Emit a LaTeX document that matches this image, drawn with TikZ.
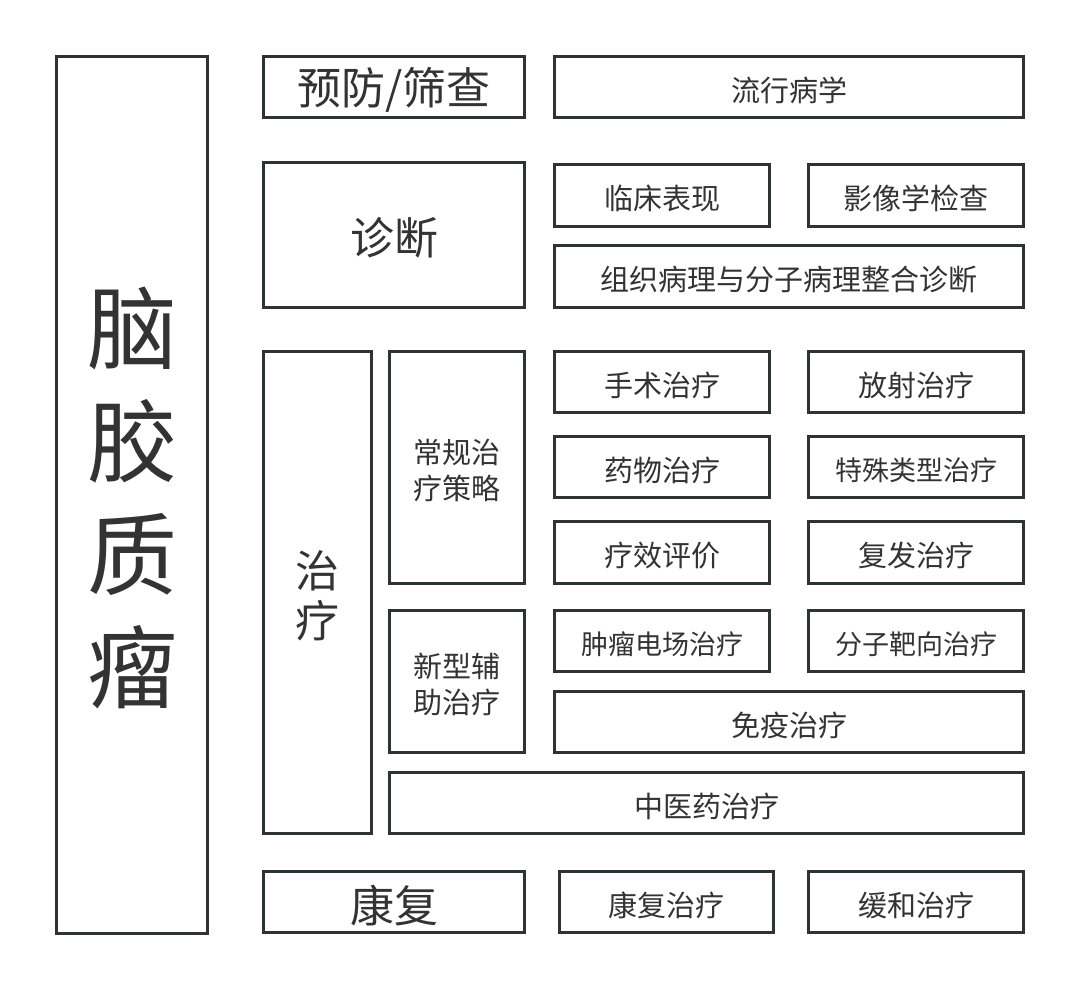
\documentclass[tikz,border=0pt]{standalone}
\usepackage{fontspec}
\setmainfont{Noto Sans CJK SC}
\definecolor{boxc}{HTML}{2E3336}
\definecolor{txtc}{HTML}{333333}
\newcommand\gbox[7]{%
  \node[box,minimum width={(#4-#2-2.6)*1pt},minimum height={(#5-#3-2.6)*1pt}]
    (#1) at ({(#2+#4)/2},{(#3+#5)/2}) {};
  \node[lbl,#6] (#1t) at ([yshift=-3.2pt]#1.center) {#7};}
\begin{document}
\begin{tikzpicture}[x=1pt,y=-1pt,
  box/.style={draw=boxc, line width=2.6pt, inner sep=0pt},
  lbl/.style={inner sep=0pt, text=txtc, font=\fontsize{29}{36}\selectfont, align=center},
  small/.style={font=\fontsize{27}{34}\selectfont},
  big/.style={font=\fontsize{44}{50}\selectfont},
  huge/.style={font=\fontsize{90}{113}\selectfont}]
\useasboundingbox[fill=white] (0,0) rectangle (1080,990);
\gbox{main}{55}{55}{209}{935}{huge}{脑\\胶\\质\\瘤}
\gbox{prev}{262}{55}{526}{119}{big}{预防/筛查}
\gbox{epid}{553}{55}{1025}{119}{}{流行病学}
\gbox{diag}{262}{161}{526}{309}{big}{诊断}
\gbox{clin}{553}{163}{771}{228}{}{临床表现}
\gbox{imag}{807}{163}{1025}{228}{}{影像学检查}
\gbox{path}{553}{244}{1025}{309}{}{组织病理与分子病理整合诊断}
\gbox{treat}{262}{350}{373}{835}{big}{治\\疗}
\gbox{conv}{388}{350}{526}{585}{}{常规治\\疗策略}
\gbox{surg}{553}{350}{771}{414}{}{手术治疗}
\gbox{radi}{807}{350}{1025}{414}{}{放射治疗}
\gbox{drug}{553}{435}{771}{499}{}{药物治疗}
\gbox{spec}{807}{435}{1025}{499}{small}{特殊类型治疗}
\gbox{eval}{553}{520}{771}{585}{}{疗效评价}
\gbox{recu}{807}{520}{1025}{585}{}{复发治疗}
\gbox{novel}{388}{609}{526}{754}{}{新型辅\\助治疗}
\gbox{ttf}{553}{609}{771}{673}{small}{肿瘤电场治疗}
\gbox{targ}{807}{609}{1025}{673}{small}{分子靶向治疗}
\gbox{immu}{553}{690}{1025}{754}{}{免疫治疗}
\gbox{tcm}{388}{771}{1025}{835}{}{中医药治疗}
\gbox{reha}{262}{870}{526}{934}{big}{康复}
\gbox{rehat}{558}{870}{775}{934}{}{康复治疗}
\gbox{pall}{807}{870}{1025}{934}{}{缓和治疗}
\end{tikzpicture}
\end{document}
